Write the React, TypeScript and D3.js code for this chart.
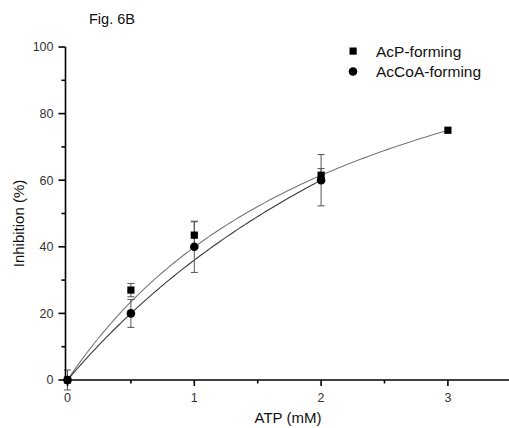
import React from "react";
import * as d3 from "d3";

// ATP concentrations (mM) and inhibition (%) for each pathway
const acpDose = [0, 0.5, 1, 2, 3];
const acpInhibition = [0, 27, 43.5, 61.5, 75];
const acpError = [0, 2, 4, 2, 0];

const acoaDose = [0, 0.5, 1, 2];
const acoaInhibition = [0, 20, 40, 60];
const acoaError = [3, 4.2, 7.7, 7.7];

// Hyperbolic fits: I = Imax * x / (K + x)
const acpFit = { imax: 133.7, k: 2.35, xmax: 3 };
const acoaFit = { imax: 180, k: 4, xmax: 2 };

const xMajorTicks = [0, 1, 2, 3];
const xMinorTicks = [0.5, 1.5, 2.5];
const yMajorTicks = [0, 20, 40, 60, 80, 100];
const yMinorTicks = [10, 30, 50, 70, 90];

const legendLabels = ["AcP-forming", "AcCoA-forming"];

const W = 509;
const H = 428;
const FONT = "'Liberation Sans', Arial, sans-serif";

export default function App() {
  const x = d3.scaleLinear().domain([0, 3.5]).range([67.5, 511.3]);
  const y = d3.scaleLinear().domain([0, 100]).range([380, 47]);
  const axisX = 65.5;
  const axisY = 380;

  const fitLine = (f: { imax: number; k: number; xmax: number }) => {
    const pts = d3.range(0, 101).map((i) => (i / 100) * f.xmax);
    return d3
      .line<number>()
      .x((d) => x(d))
      .y((d) => y((f.imax * d) / (f.k + d)))
      .curve(d3.curveLinear)(pts) as string;
  };

  const errBar = (cx: number, v: number, e: number, key: string) => {
    if (!e) return null;
    const top = y(v + e);
    const bot = y(v - e);
    const cap = 3.5;
    return (
      <g key={key} stroke="#555" strokeWidth={1}>
        <line x1={cx} x2={cx} y1={top} y2={bot} />
        <line x1={cx - cap} x2={cx + cap} y1={top} y2={top} />
        <line x1={cx - cap} x2={cx + cap} y1={bot} y2={bot} />
      </g>
    );
  };

  return (
    <svg
      width={W}
      height={H}
      style={{ position: "absolute", left: 0, top: 0, background: "#fff" }}
      fontFamily={FONT}
    >
      <rect width={W} height={H} fill="#fff" />
      <text x={89} y={24} fontSize={14.5} fill="#111">
        Fig. 6B
      </text>

      {/* fitted curves */}
      <path d={fitLine(acpFit)} fill="none" stroke="#777" strokeWidth={1.1} />
      <path d={fitLine(acoaFit)} fill="none" stroke="#3a3a3a" strokeWidth={1.1} />

      {/* error bars */}
      {acoaDose.map((d, i) => errBar(x(d), acoaInhibition[i], acoaError[i], "ce" + i))}
      {acpDose.map((d, i) => errBar(x(d), acpInhibition[i], acpError[i], "se" + i))}

      {/* markers */}
      {acpDose.map((d, i) => (
        <rect
          key={"s" + i}
          x={x(d) - 3.6}
          y={y(acpInhibition[i]) - 3.6}
          width={7.2}
          height={7.2}
          fill="#000"
        />
      ))}
      {acoaDose.map((d, i) => (
        <circle key={"c" + i} cx={x(d)} cy={y(acoaInhibition[i])} r={4.3} fill="#000" />
      ))}

      {/* axes */}
      <g stroke="#000" strokeWidth={1.6}>
        <line x1={axisX} x2={axisX} y1={y(100)} y2={axisY + 0.8} />
        <line x1={axisX - 0.8} x2={W} y1={axisY} y2={axisY} />
        {xMajorTicks.map((t) => (
          <line key={"xt" + t} x1={x(t)} x2={x(t)} y1={axisY} y2={axisY + 6} />
        ))}
        {xMinorTicks.map((t) => (
          <line key={"xm" + t} x1={x(t)} x2={x(t)} y1={axisY} y2={axisY + 3.5} />
        ))}
        {yMajorTicks.map((t) => (
          <line key={"yt" + t} x1={axisX - 7} x2={axisX} y1={y(t)} y2={y(t)} />
        ))}
        {yMinorTicks.map((t) => (
          <line key={"ym" + t} x1={axisX - 4} x2={axisX} y1={y(t)} y2={y(t)} />
        ))}
      </g>
      {xMajorTicks.map((t) => (
        <text key={"xl" + t} x={x(t)} y={401.5} fontSize={12.5} textAnchor="middle" fill="#333">
          {t}
        </text>
      ))}
      {yMajorTicks.map((t) => (
        <text key={"yl" + t} x={53.5} y={y(t) + 4.4} fontSize={12.5} textAnchor="end" fill="#333">
          {t}
        </text>
      ))}

      <text x={288} y={423} fontSize={15} textAnchor="middle" fill="#111">
        ATP (mM)
      </text>
      <text
        transform={`translate(24,${(y(0) + y(100)) / 2 + 10}) rotate(-90)`}
        fontSize={15}
        textAnchor="middle"
        fill="#111"
      >
        Inhibition (%)
      </text>

      {/* legend */}
      <rect x={349.5} y={47.5} width={7.2} height={7.2} fill="#000" />
      <text x={376} y={56.7} fontSize={15.5} fill="#111">
        {legendLabels[0]}
      </text>
      <circle cx={353} cy={71.5} r={4.3} fill="#000" />
      <text x={376} y={76.7} fontSize={15.5} fill="#111">
        {legendLabels[1]}
      </text>
    </svg>
  );
}
